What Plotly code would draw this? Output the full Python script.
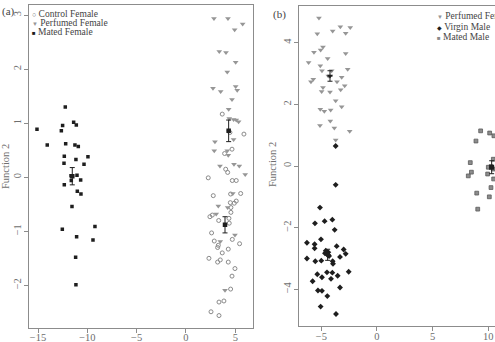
import plotly.graph_objects as go

# ---------------- data: panel (a) ----------------
control_female_x = [3.68, 5.88, 4.46, 4.67, 3.92, 4.03, 4.23, 2.26, 4.70, 5.10, 2.77, 4.53, 5.55, 4.50, 4.90,
                    5.10, 4.56, 4.56, 2.43, 2.67, 3.32, 4.36, 4.39, 2.60, 4.70, 2.87, 5.44, 3.28, 3.21, 4.29,
                    3.68, 2.33, 3.48, 3.21, 4.29, 4.97, 4.67, 4.53, 3.85, 3.35, 2.54, 3.35]
control_female_y = [1.17, 0.80, 0.83, 0.52, 0.44, 0.15, 0.09, -0.01, -0.06, -0.06, -0.34, -0.31, -0.30, -0.47, -0.48,
                    -0.44, -0.56, -0.65, -0.73, -0.70, -0.80, -0.76, -0.85, -1.03, -1.15, -1.18, -1.23, -1.26, -1.30, -1.33,
                    -1.40, -1.50, -1.53, -1.57, -1.57, -1.69, -1.83, -2.07, -2.29, -2.31, -2.49, -2.56]

perfumed_female_a_x = [2.84, 4.26, 5.75, 4.94, 3.38, 4.06, 5.04, 4.19, 2.74, 3.52, 5.04, 5.20, 4.67, 4.33, 4.39,
                       4.83, 5.10, 5.34, 4.83, 2.94, 2.87, 4.19, 4.29, 3.45, 4.87, 5.41, 6.01, 4.75, 3.28, 4.23,
                       3.07, 4.97, 3.48, 3.96]
perfumed_female_a_y = [2.94, 2.94, 2.84, 2.73, 2.33, 2.31, 2.13, 1.95, 1.65, 1.59, 1.68, 1.61, 1.44, 1.26, 1.09,
                       1.07, 1.06, 1.03, 0.70, 0.66, 0.49, 0.49, 0.41, 0.21, 0.24, 0.21, 0.05, -0.30, -0.53, -0.56,
                       -0.68, -1.07, -1.19, -2.09]

mated_female_x = [-12.24, -11.39, -11.12, -12.51, -15.11, -12.64, -14.07, -12.20, -11.26, -10.92, -12.34, -9.94,
                  -11.16, -12.37, -10.34, -11.05, -11.66, -11.63, -10.68, -12.34, -11.02, -10.65, -11.56, -12.54,
                  -9.23, -11.09, -9.43, -11.19, -11.16]
mated_female_y = [1.30, 1.02, 0.97, 0.96, 0.89, 0.86, 0.60, 0.62, 0.60, 0.57, 0.39, 0.38, 0.33, 0.26, 0.24, 0.04,
                  0.03, -0.06, -0.05, -0.14, -0.26, -0.31, -0.54, -0.96, -0.91, -1.10, -1.16, -1.48, -1.99]

# group means (x, y) and standard errors (panel a)
means_a_x = [3.96, 4.33, -11.53]
means_a_y = [-0.88, 0.86, 0.02]
se_a_x = [0.2, 0.2, 0.2]
se_a_y = [0.15, 0.20, 0.16]

# ---------------- data: panel (b) ----------------
perfumed_female_b_x = [-5.21, -3.29, -2.40, -3.98, -2.81, -5.36, -4.85, -5.06, -5.66, -2.81, -4.43, -6.14, -5.09,
                       -2.63, -4.94, -4.07, -4.37, -3.17, -5.72, -5.93, -3.59, -2.90, -4.85, -3.26, -4.97, -4.22,
                       -3.71, -3.17, -5.09, -4.73, -4.16, -4.19, -5.12, -3.83, -2.45, -3.71]
perfumed_female_b_y = [4.80, 4.52, 4.49, 4.38, 4.31, 4.29, 3.86, 3.76, 3.69, 3.65, 3.49, 3.36, 3.25, 3.14, 3.09,
                       3.09, 2.92, 2.88, 2.81, 2.73, 2.73, 2.60, 2.55, 2.47, 2.42, 2.40, 2.12, 1.92, 1.84, 1.78,
                       1.82, 1.46, 1.31, 1.23, 1.13, 0.84]

virgin_male_x = [-3.71, -3.71, -5.12, -5.57, -4.70, -4.01, -3.80, -5.03, -6.29, -5.60, -5.60, -3.62, -2.99, -2.81,
                 -4.67, -4.37, -6.29, -3.32, -5.54, -5.00, -3.98, -3.95, -2.54, -5.36, -4.49, -4.01, -3.53, -4.94,
                 -4.13, -5.78, -3.32, -5.30, -4.94, -4.46, -5.06, -3.68, -4.60, -4.30]
virgin_male_y = [0.65, -0.61, -1.35, -1.86, -1.79, -1.74, -2.07, -2.38, -2.49, -2.54, -2.67, -2.60, -2.71, -2.85,
                 -2.83, -2.80, -3.00, -2.95, -3.09, -3.07, -3.09, -3.17, -3.43, -3.51, -3.45, -3.46, -3.56, -3.61,
                 -3.66, -3.74, -3.94, -4.04, -4.05, -4.22, -4.56, -4.80, -2.75, -2.92]

mated_male_x = [9.31, 10.12, 10.50, 8.89, 10.45, 8.38, 10.24, 10.45, 8.48, 8.20, 9.94, 10.48, 8.96, 10.24, 10.09,
                9.05, 10.00]
mated_male_y = [1.14, 1.07, 0.98, 0.81, 0.22, 0.11, -0.02, -0.10, -0.20, -0.32, -0.26, -0.42, -0.88, -0.70, -1.00,
                -1.40, -0.04]

means_b_x = [-4.22, -4.43, 10.30]
means_b_y = [2.92, -2.88, -0.04]
se_b_x = [0.25, 0.25, 0.2]
se_b_y = [0.17, 0.18, 0.21]

# tick values
ticks_ax = [-15, -10, -5, 0, 5]
ticks_ay = [-2, -1, 0, 1, 2, 3]
ticks_bx = [-5, 0, 5, 10]
ticks_by = [-4, -2, 0, 2, 4]

W, H = 495, 342
SERIF = "Liberation Serif"
GREY_C = "#8a8a8a"
GREY_T = "#969696"
DARK = "#1e1e1e"

fig = go.Figure()

# panel (a)
fig.add_trace(go.Scatter(x=control_female_x, y=control_female_y, mode="markers", xaxis="x", yaxis="y",
                         marker=dict(symbol="circle-open", size=4, color=GREY_C, line=dict(width=1, color=GREY_C)),
                         name="Control Female"))
fig.add_trace(go.Scatter(x=perfumed_female_a_x, y=perfumed_female_a_y, mode="markers", xaxis="x", yaxis="y",
                         marker=dict(symbol="triangle-down", size=5, color=GREY_T, line=dict(width=0)),
                         name="Perfumed Female"))
fig.add_trace(go.Scatter(x=mated_female_x, y=mated_female_y, mode="markers", xaxis="x", yaxis="y",
                         marker=dict(symbol="square", size=3.5, color=DARK, line=dict(width=0)),
                         name="Mated Female"))
fig.add_trace(go.Scatter(x=means_a_x, y=means_a_y, mode="markers", xaxis="x", yaxis="y",
                         marker=dict(symbol="square", size=4.5, color=DARK),
                         error_y=dict(type="data", array=se_a_y, color=DARK, thickness=1, width=2.5),
                         error_x=dict(type="data", array=se_a_x, color=DARK, thickness=1, width=0),
                         name="means"))

# panel (b)
fig.add_trace(go.Scatter(x=perfumed_female_b_x, y=perfumed_female_b_y, mode="markers", xaxis="x2", yaxis="y2",
                         marker=dict(symbol="triangle-down", size=5, color=GREY_T, line=dict(width=0)),
                         name="Perfumed Female"))
fig.add_trace(go.Scatter(x=virgin_male_x, y=virgin_male_y, mode="markers", xaxis="x2", yaxis="y2",
                         marker=dict(symbol="diamond", size=4.5, color=DARK, line=dict(width=0)),
                         name="Virgin Male"))
fig.add_trace(go.Scatter(x=mated_male_x, y=mated_male_y, mode="markers", xaxis="x2", yaxis="y2",
                         marker=dict(symbol="square", size=3.8, color="#8c8c8c", line=dict(width=0.8, color="#5a5a5a")),
                         name="Mated Male"))
fig.add_trace(go.Scatter(x=means_b_x, y=means_b_y, mode="markers", xaxis="x2", yaxis="y2",
                         marker=dict(symbol=["triangle-down", "diamond", "square"], size=5, color=DARK),
                         error_y=dict(type="data", array=se_b_y, color=DARK, thickness=1, width=2.5),
                         error_x=dict(type="data", array=se_b_x, color=DARK, thickness=1, width=0),
                         name="means"))

axis_common = dict(showgrid=False, zeroline=False, showline=True, linecolor="#8c8c8c", linewidth=1,
                   ticks="outside", ticklen=4, tickcolor="#8c8c8c", automargin=False,
                   tickfont=dict(family=SERIF, size=10.5, color="#6e6e6e"))


def px(x):
    return x / W


def py(y):
    return 1 - y / H


fig.update_layout(
    width=W, height=H, autosize=False,
    margin=dict(l=0, r=0, t=0, b=0),
    paper_bgcolor="white", plot_bgcolor="white",
    showlegend=False,
    xaxis=dict(axis_common, domain=[px(29), px(253)], range=[-15.92, 6.8], tickvals=ticks_ax,
               mirror=True, anchor="y", ticklabelstandoff=-4),
    yaxis=dict(axis_common, domain=[py(327.7), py(5)], range=[-2.785, 3.19], tickvals=ticks_ay,
               mirror=True, anchor="x", tickangle=-90, ticklabelstandoff=-1),
    xaxis2=dict(axis_common, domain=[px(298.7), 1.0], range=[-7.03, 10.6], tickvals=ticks_bx,
                mirror=True, anchor="y2", ticklabelstandoff=-4),
    yaxis2=dict(axis_common, domain=[py(326), py(6)], range=[-5.19, 5.19], tickvals=ticks_by,
                mirror=False, anchor="x2", tickangle=-90, ticklabelstandoff=-1),
)

ann_font = dict(family=SERIF, size=9.5, color="#444444")


def legend_line(glyph, gsize, gcolor, label):
    return (f'<span style="color:{gcolor};font-size:{gsize}px">{glyph}</span> {label}')


annotations = [
    dict(text="(a)", x=px(0), y=py(11), xanchor="left", yanchor="middle", showarrow=False,
         xref="paper", yref="paper", font=dict(family=SERIF, size=11, color="#444")),
    dict(text="(b)", x=px(271), y=py(14), xanchor="left", yanchor="middle", showarrow=False,
         xref="paper", yref="paper", font=dict(family=SERIF, size=11, color="#444")),
    dict(text="Function 2", x=px(5), y=py(167), textangle=-90, xanchor="center", yanchor="middle",
         showarrow=False, xref="paper", yref="paper", font=dict(family=SERIF, size=10.5, color="#6e6e6e")),
    dict(text="Function 2", x=px(273), y=py(165), textangle=-90, xanchor="center", yanchor="middle",
         showarrow=False, xref="paper", yref="paper", font=dict(family=SERIF, size=10.5, color="#6e6e6e")),
]

legend_a = [("○", 7, "#666666", "Control Female", 13.7),
            ("▼", 6, GREY_T, "Perfumed Female", 23.3),
            ("■", 6, DARK, "Mated Female", 32.3)]
for g, s, c, lab, yy in legend_a:
    annotations.append(dict(text=legend_line(g, s, c, lab), x=px(31), y=py(yy), xanchor="left",
                            yanchor="middle", showarrow=False, xref="paper", yref="paper", font=ann_font,
                            borderpad=0))

legend_b = [("▼", 6, GREY_T, "Perfumed Female", 15.7),
            ("◆", 6, DARK, "Virgin Male", 26.7),
            ("■", 6, "#8a8a8a", "Mated Male", 36.7)]
for g, s, c, lab, yy in legend_b:
    annotations.append(dict(text=legend_line(g, s, c, lab), x=px(436), y=py(yy), xanchor="left",
                            yanchor="middle", showarrow=False, xref="paper", yref="paper", font=ann_font,
                            borderpad=0))

fig.update_layout(annotations=annotations)

fig.write_html("out.html")
